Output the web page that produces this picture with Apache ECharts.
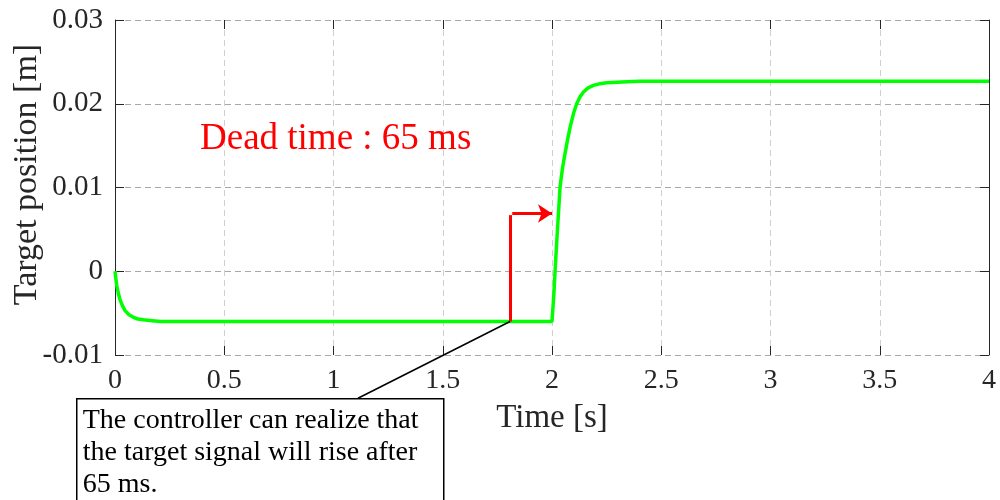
<!DOCTYPE html>
<html>
<head>
<meta charset="utf-8">
<script src="https://cdn.jsdelivr.net/npm/echarts@6/dist/echarts.min.js"></script>
<style>
html,body{margin:0;padding:0;background:#fff;}
#chart{width:1000px;height:500px;}
</style>
</head>
<body>
<div id="chart"></div>
<script>
// ---- data ----
const xTickLabels = ['0','0.5','1','1.5','2','2.5','3','3.5','4'];
const yTickLabels = ['-0.01','0','0.01','0.02','0.03'];
const timeS = [0, 0.004, 0.008, 0.015, 0.023, 0.034, 0.046, 0.064, 0.084, 0.105, 0.13, 0.17, 0.21, 0.3, 1.0, 1.5, 2.0, 2.003,
  2.008, 2.014, 2.025, 2.037, 2.048, 2.06, 2.072, 2.083, 2.098, 2.113, 2.128, 2.144, 2.165, 2.19, 2.22, 2.25, 2.32, 2.4, 3.0, 4.0];
const targetPos = [0, -0.0009, -0.0017, -0.0026, -0.0034, -0.0041, -0.0047, -0.0052, -0.0055, -0.0057, -0.0058, -0.0059, -0.0060, -0.0060, -0.0060, -0.0060, -0.0060, -0.0060,
  -0.0030, 0.0000, 0.0050, 0.0101, 0.0123, 0.0141, 0.0158, 0.0172, 0.0188, 0.0200, 0.0208, 0.0214, 0.0219, 0.0222, 0.0224, 0.0225, 0.0226, 0.0227, 0.0227, 0.0227];
const markerX = [1.808, 1.808];
const markerY = [-0.0060, 0.0067];
const arrowX = [1.818, 2.0];
const arrowY = [0.0069, 0.0069];
const calloutX = [1.808, 1.112];
const calloutY = [-0.0060, -0.01516];
const deadTimeText = 'Dead time : 65 ms';
const calloutText = 'The controller can realize that\nthe target signal will rise after\n65 ms.';
const xName = 'Time [s]';
const yName = 'Target position [m]';

// ---- chart ----
const FONT = "'Liberation Serif', 'Times New Roman', serif";
const xVals = xTickLabels.map(Number);
const yVals = yTickLabels.map(Number);
function nearestLabel(v, vals, labels) {
  let best = 0;
  for (let i = 1; i < vals.length; i++) if (Math.abs(vals[i] - v) < Math.abs(vals[best] - v)) best = i;
  return Math.abs(vals[best] - v) < 1e-6 ? labels[best] : '';
}
const chart = echarts.init(document.getElementById('chart'), null, {renderer: 'canvas'});
const tickStyle = {show: true, inside: true, length: 9, lineStyle: {color: '#262626', width: 1}};
const option = {
  animation: false,
  backgroundColor: '#ffffff',
  grid: {left: 115, right: 11, top: 20, bottom: 145, containLabel: false, outerBoundsMode: 'none'},
  xAxis: [{
    type: 'value', min: 0, max: 4, interval: 0.5, position: 'bottom',
    name: xName, nameLocation: 'middle', nameGap: 47, nameMoveOverlap: false,
    nameTextStyle: {fontFamily: FONT, fontSize: 33, color: '#262626'},
    axisLine: {show: false, onZero: false},
    axisTick: tickStyle,
    axisLabel: {fontFamily: FONT, fontSize: 28, color: '#262626', margin: 12,
      formatter: v => nearestLabel(v, xVals, xTickLabels)},
    splitLine: {show: true, lineStyle: {color: '#cfcfcf', width: 1, type: [6, 4]}}
  }, {
    type: 'value', min: 0, max: 4, interval: 0.5, position: 'top',
    axisLine: {show: false, onZero: false}, axisTick: tickStyle, axisLabel: {show: false}, splitLine: {show: false}
  }],
  yAxis: [{
    type: 'value', min: -0.01, max: 0.03, interval: 0.01, position: 'left',
    name: yName, nameLocation: 'middle', nameGap: 71, nameRotate: 90, nameMoveOverlap: false,
    nameTextStyle: {fontFamily: FONT, fontSize: 34, color: '#262626', padding: [0, 0, 0, 26]},
    axisLine: {show: true, onZero: false, lineStyle: {color: '#262626', width: 1}},
    axisTick: tickStyle,
    axisLabel: {fontFamily: FONT, fontSize: 29, color: '#262626', margin: 12,
      formatter: v => nearestLabel(v, yVals, yTickLabels)},
    splitLine: {show: true, lineStyle: {color: '#a8a8a8', width: 1, type: [6, 4]}}
  }, {
    type: 'value', min: -0.01, max: 0.03, interval: 0.01, position: 'right',
    axisLine: {show: true, onZero: false, lineStyle: {color: '#262626', width: 1}},
    axisTick: tickStyle, axisLabel: {show: false}, splitLine: {show: false}
  }],
  series: [{
    type: 'line', name: 'target', xAxisIndex: 0, yAxisIndex: 0,
    data: timeS.map((t, i) => [t, targetPos[i]]),
    showSymbol: false, symbol: 'none', smooth: false,
    lineStyle: {color: '#00ff00', width: 3.5}, z: 3
  }, {
    type: 'lines', coordinateSystem: 'cartesian2d', xAxisIndex: 0, yAxisIndex: 0,
    clip: false, z: 4,
    data: [{coords: [[markerX[0], markerY[0]], [markerX[1], markerY[1]]]}],
    lineStyle: {color: '#ff0000', width: 3, opacity: 1}
  }, {
    type: 'lines', coordinateSystem: 'cartesian2d', xAxisIndex: 0, yAxisIndex: 0,
    clip: false, z: 4,
    symbol: ['none', 'arrow'], symbolSize: 14,
    data: [{coords: [[arrowX[0], arrowY[0]], [arrowX[1], arrowY[1]]]}],
    lineStyle: {color: '#ff0000', width: 3, opacity: 1}
  }, {
    type: 'lines', coordinateSystem: 'cartesian2d', xAxisIndex: 0, yAxisIndex: 0,
    clip: false, z: 5,
    data: [{coords: [[calloutX[0], calloutY[0]], [calloutX[1], calloutY[1]]]}],
    lineStyle: {color: '#000000', width: 1.5, opacity: 1}
  }],
  graphic: [{
    type: 'text', left: 200, top: 121, z: 10,
    style: {text: deadTimeText, fill: '#ff0000', font: "37px " + FONT}
  }, {
    type: 'group', left: 76, top: 398, z: 10,
    children: [{
      type: 'rect', shape: {x: 0, y: 0, width: 367, height: 130},
      style: {fill: '#ffffff', stroke: '#000000', lineWidth: 1.5}
    }, {
      type: 'text', x: 6, y: 6,
      style: {text: calloutText, fill: '#000000', font: "28px " + FONT, lineHeight: 32}
    }]
  }]
};
chart.setOption(option);
</script>
</body>
</html>
